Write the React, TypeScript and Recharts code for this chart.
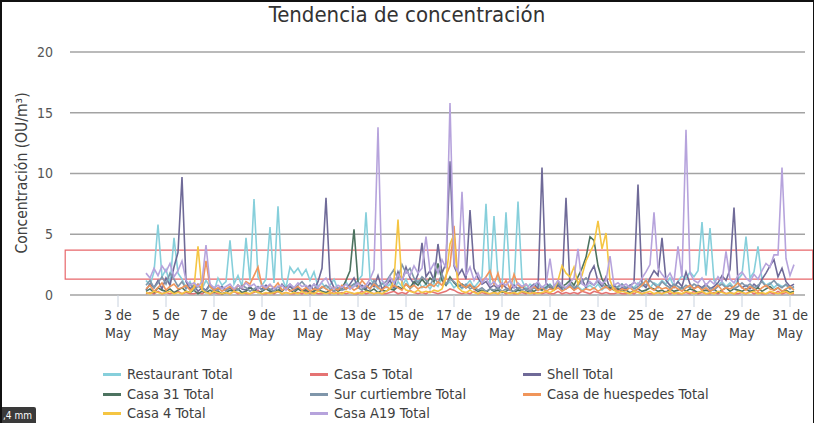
import React from "react";
import { LineChart, Line, XAxis, YAxis, CartesianGrid, ReferenceArea } from "recharts";

// time grid: first sample 4 May 04:00, one sample every 4 hours (in days since 1 May 00:00)
const START_DAY = 3 + 4 / 24;
const STEP_DAY = 4 / 24;

const restaurant = [
  1.2,0.8,1.9,5.8,1.5,2.1,0.9,4.7,1.8,1.3,
  0.6,1.1,0.4,0.9,0.5,1.2,0.7,0.3,1.4,0.8,
  1.1,4.5,0.9,1.6,0.7,4.7,1.2,7.9,1.5,0.8,
  1.3,5.6,1.0,7.3,1.4,0.6,2.3,1.8,2.2,1.6,
  2.1,1.2,1.9,0.7,1.0,0.5,0.8,1.3,0.4,0.6,
  1.1,0.5,0.9,1.2,1.6,6.8,1.4,0.8,0.5,1.0,
  0.6,0.9,0.4,1.1,0.7,1.3,0.5,0.8,1.2,0.6,
  0.9,0.5,1.0,0.7,1.4,0.8,1.1,0.6,0.9,0.5,
  0.8,1.2,0.6,1.0,1.5,7.5,0.9,6.5,1.3,0.7,
  6.8,1.1,0.6,7.7,1.2,0.5,0.9,0.6,1.0,0.4,
  0.7,0.9,0.5,0.8,0.4,0.6,0.9,0.5,0.7,0.4,
  0.6,0.8,0.5,0.9,0.4,0.7,0.5,0.8,0.6,0.9,
  0.5,0.8,0.6,1.0,0.7,1.3,0.6,1.0,0.8,1.2,
  0.9,1.4,0.7,1.1,1.6,1.3,1.9,1.5,2.0,6.0,
  1.6,5.5,1.2,0.8,1.1,0.7,1.0,0.6,1.3,1.7,
  4.8,1.4,1.9,4.0,1.2,0.8,1.0,0.6,0.9,0.7,
  0.8,0.5,0.6,
];

const casa5 = [
  0.1,0.2,0.1,0.3,0.1,0.2,0.1,0.2,0.3,0.1,
  0.2,0.1,0.1,0.2,0.1,0.3,0.1,0.2,0.1,0.1,
  0.2,0.1,0.3,0.1,0.2,0.1,0.1,0.2,0.4,0.1,
  0.1,0.2,0.1,0.3,0.1,0.2,0.1,0.1,0.2,0.1,
  0.3,0.1,0.2,0.1,0.1,0.2,0.1,0.3,0.1,0.2,
  0.1,0.2,0.1,0.1,0.3,0.1,0.2,0.1,0.2,0.1,
  0.1,0.2,0.3,0.1,0.2,0.1,0.4,0.2,0.1,0.2,
  0.1,0.3,0.2,0.1,0.2,0.3,0.5,0.4,0.2,0.1,
  0.2,0.1,0.3,0.1,0.2,0.1,0.1,0.2,0.1,0.3,
  0.1,0.2,0.1,0.1,0.2,0.1,0.3,0.1,0.2,0.1,
  0.2,0.1,0.1,0.3,0.1,0.2,0.1,0.2,0.1,0.3,
  0.2,0.1,0.3,0.2,0.1,0.2,0.1,0.1,0.2,0.1,
  0.1,0.2,0.1,0.3,0.1,0.2,0.1,0.1,0.2,0.1,
  0.3,0.1,0.2,0.1,0.1,0.2,0.1,0.3,0.1,0.2,
  0.1,0.1,0.2,0.1,0.3,0.1,0.2,0.1,0.1,0.2,
  0.1,0.3,0.1,0.2,0.1,0.1,0.2,0.1,0.3,0.1,
  0.2,0.1,0.1,
];

const shell = [
  0.4,0.9,0.6,1.2,0.5,1.4,0.8,2.3,3.5,9.7,
  1.1,0.5,0.8,0.3,0.6,0.4,0.9,0.3,0.5,0.7,
  0.4,0.6,0.3,0.8,0.5,0.4,0.7,0.3,0.6,0.5,
  0.8,0.4,0.6,0.3,0.9,0.5,0.7,0.4,0.6,0.3,
  0.5,0.8,0.4,1.1,2.2,8.0,1.3,0.6,0.4,0.7,
  0.5,0.9,1.4,0.6,0.8,0.5,1.0,0.7,1.6,0.5,
  0.8,1.2,0.6,1.9,1.1,2.3,1.4,0.9,1.7,4.3,
  1.5,2.0,1.2,4.2,1.8,2.6,11.0,2.4,1.6,2.1,
  1.3,7.0,2.2,1.4,0.9,1.1,0.6,0.8,0.5,0.9,
  0.6,0.4,0.8,0.5,0.7,0.4,0.6,0.9,0.5,10.5,
  1.0,0.6,0.4,0.8,0.5,8.0,0.7,0.4,0.9,1.3,
  0.6,1.8,2.4,1.1,0.7,1.5,0.5,0.8,0.4,0.6,
  0.5,0.8,1.0,9.1,0.9,0.6,1.4,2.0,1.6,4.7,
  1.2,0.8,0.6,1.1,0.7,1.9,0.9,0.5,0.8,0.6,
  0.9,0.5,0.7,1.0,1.6,1.2,2.1,7.2,1.0,0.6,
  0.8,0.5,0.9,0.6,1.3,1.8,2.4,2.9,1.5,2.2,
  1.1,0.7,0.9,
];

const casa31 = [
  0.3,0.5,0.2,0.6,0.4,0.3,0.5,0.2,0.4,0.6,
  0.3,0.2,0.4,0.1,0.3,0.2,0.4,0.2,0.3,0.1,
  0.2,0.4,0.3,0.5,0.2,0.3,0.6,0.4,0.2,0.3,
  0.5,0.3,0.2,0.4,0.3,0.6,0.4,0.2,0.5,0.3,
  0.4,0.2,0.3,0.5,0.3,0.2,0.4,0.6,0.3,0.5,
  1.2,2.0,5.4,1.1,0.6,0.4,0.3,0.5,0.2,0.4,
  0.3,0.5,0.4,0.7,0.5,0.9,0.6,1.1,0.8,1.3,
  0.9,1.4,1.1,2.6,1.2,0.8,1.5,1.0,0.7,0.9,
  0.6,0.8,0.5,0.3,0.4,0.2,0.5,0.3,0.4,0.2,
  0.3,0.5,0.2,0.4,0.3,0.2,0.4,0.3,0.5,0.4,
  0.6,0.8,0.5,1.0,0.7,0.9,1.2,0.8,1.5,2.2,
  3.1,4.8,4.5,2.4,1.3,0.8,0.6,0.4,0.5,0.3,
  0.4,0.2,0.3,0.5,0.3,0.4,0.6,0.5,0.3,0.4,
  0.2,0.5,0.3,0.4,0.6,0.3,0.5,0.4,0.2,0.3,
  0.4,0.3,0.5,0.2,0.4,0.6,0.3,0.5,0.4,0.3,
  0.5,0.3,0.4,0.6,0.3,0.5,0.7,0.4,0.6,0.3,
  0.4,0.2,0.3,
];

const surCurtiembre = [
  0.8,1.2,0.6,1.0,1.5,0.9,1.8,1.3,0.7,1.1,
  0.5,0.9,0.4,0.7,0.6,0.3,0.8,0.5,0.4,0.6,
  0.3,0.7,0.5,0.4,0.8,0.6,0.3,0.5,0.7,0.4,
  0.6,0.5,0.3,0.7,0.4,0.6,0.9,0.5,0.8,1.1,
  0.7,0.5,0.9,0.4,0.6,0.8,0.5,0.3,0.6,0.4,
  0.5,0.7,0.9,0.6,0.4,0.8,0.5,1.2,0.7,0.9,
  1.1,1.6,2.1,1.3,2.5,1.8,2.2,1.4,1.0,1.5,
  1.2,0.8,1.4,1.0,1.7,0.9,1.3,1.1,0.8,0.6,
  0.9,0.5,0.7,0.4,0.6,0.3,0.5,0.4,0.6,0.3,
  0.5,0.4,0.3,0.6,0.4,0.5,0.3,0.6,0.4,0.7,
  0.5,0.8,0.6,1.0,0.7,0.5,0.9,0.6,0.8,1.1,
  1.4,1.0,0.8,1.2,0.9,0.6,0.8,0.5,0.7,0.9,
  0.6,0.8,0.5,0.7,1.0,0.8,1.2,0.9,0.6,1.1,
  0.8,0.6,0.9,0.7,0.5,0.8,0.6,0.9,0.7,0.5,
  0.8,0.6,0.4,0.7,0.9,0.6,0.8,0.5,0.7,1.0,
  0.7,0.9,0.6,0.8,1.1,0.7,0.9,1.2,0.8,0.6,
  0.9,0.5,0.7,
];

const casaHuespedes = [
  0.5,0.8,0.3,0.6,1.0,0.4,0.7,0.9,0.5,0.6,
  0.8,0.4,0.6,0.9,0.5,2.8,0.7,0.4,0.6,0.3,
  0.5,0.7,0.4,0.8,0.6,1.1,0.9,1.6,2.3,0.7,
  0.5,0.8,0.6,1.0,0.4,0.6,0.3,0.5,0.7,0.4,
  0.6,0.3,0.5,0.4,0.7,0.5,0.3,0.6,0.4,0.8,
  0.5,0.7,0.4,0.6,1.2,0.8,0.5,0.9,0.6,0.4,
  0.7,0.5,0.8,0.6,0.4,0.9,0.6,0.8,0.5,0.7,
  0.6,0.9,0.7,1.1,0.8,1.6,2.4,5.7,1.2,0.8,
  0.6,0.9,0.5,0.7,1.1,1.5,2.0,0.9,1.8,0.6,
  1.2,0.5,1.7,0.8,0.6,0.9,0.5,0.7,0.4,0.6,
  0.3,0.5,0.4,0.6,0.3,0.5,0.7,0.4,0.6,0.3,
  0.5,0.4,0.6,0.3,0.5,0.7,0.4,0.6,0.3,0.5,
  0.4,0.6,0.3,0.5,0.8,1.2,0.6,0.4,0.7,0.5,
  0.6,0.4,0.7,0.5,0.3,0.6,0.8,0.5,0.7,0.4,
  0.6,0.3,0.5,0.8,0.4,0.6,0.5,0.7,1.0,0.6,
  0.4,0.7,0.5,0.3,0.6,0.8,0.5,0.4,0.6,0.3,
  0.5,0.7,0.4,
];

const casa4 = [
  0.2,0.1,0.3,0.2,0.1,0.2,0.3,0.1,0.2,0.1,
  0.3,0.2,0.6,4.0,0.4,0.2,0.1,0.3,0.2,0.1,
  0.2,0.1,0.3,0.2,0.1,0.2,0.1,0.3,0.2,0.1,
  0.2,0.1,0.2,0.3,0.1,0.2,0.1,0.2,0.1,0.3,
  0.1,0.2,0.1,0.3,0.2,0.1,0.2,0.1,0.2,0.1,
  0.3,0.2,0.1,0.2,0.1,0.3,0.2,0.1,0.2,0.1,
  0.3,0.5,1.2,6.2,0.8,0.4,0.3,0.2,0.4,0.2,
  0.3,0.2,0.4,0.3,0.5,1.4,4.2,5.0,0.6,0.3,
  0.2,0.4,0.2,0.1,0.3,0.2,0.1,0.2,0.1,0.3,
  0.2,0.1,0.2,0.1,0.3,0.2,0.1,0.2,0.1,0.2,
  0.3,0.2,0.4,1.2,2.4,1.8,1.5,2.3,0.9,1.6,
  2.8,3.5,4.2,6.1,3.8,5.1,1.2,0.4,0.2,0.3,
  0.2,0.1,0.3,0.2,0.1,0.2,0.3,0.1,0.2,0.1,
  0.2,0.3,0.1,0.2,0.1,0.3,0.2,0.1,0.2,0.3,
  0.1,0.2,0.1,0.3,0.2,0.1,0.2,0.1,0.3,0.2,
  0.1,0.2,0.3,0.1,0.2,0.1,0.3,0.2,0.1,0.2,
  0.3,0.1,0.2,
];

const casaA19 = [
  1.8,1.4,2.2,1.6,2.4,1.9,2.6,1.5,2.0,2.8,
  1.2,0.8,1.0,0.7,1.1,4.1,0.9,0.6,0.8,0.5,
  0.7,0.9,0.5,0.8,0.6,1.0,0.7,0.9,0.5,0.8,
  0.6,0.9,0.5,0.7,0.8,0.4,0.9,0.6,1.0,0.7,
  0.8,0.5,0.9,0.6,1.1,1.4,0.7,0.5,0.8,0.6,
  0.9,0.5,0.7,1.0,0.6,0.8,1.3,2.1,13.8,1.2,
  0.8,1.5,1.0,1.7,1.2,2.0,1.6,2.4,1.8,2.2,
  4.8,2.0,2.6,1.8,2.9,2.2,15.8,2.5,1.9,8.5,
  1.6,2.3,1.2,1.8,1.0,1.4,0.8,1.1,0.7,1.0,
  0.8,1.2,0.6,1.0,0.7,0.9,0.5,0.8,1.1,0.6,
  0.9,3.0,0.7,1.2,0.8,0.6,1.0,1.4,3.8,0.9,
  0.7,1.1,0.8,1.3,0.9,1.2,3.2,0.8,1.0,0.7,
  0.9,0.6,1.1,0.8,1.4,1.9,2.5,6.8,2.2,1.7,
  1.3,1.8,1.1,4.0,1.5,13.6,1.8,1.2,1.0,1.4,
  0.8,1.2,0.9,1.5,1.1,3.6,1.3,1.0,1.6,1.9,
  1.4,1.1,1.7,1.3,2.0,2.6,2.3,3.3,3.3,10.5,
  3.0,1.6,2.5,
];

const tickDays = [3, 5, 7, 9, 11, 13, 15, 17, 19, 21, 23, 25, 27, 29, 31];
const monthLabel = "May";
const yTicks = [0, 5, 10, 15, 20];
const bandLow = 1.3;
const bandHigh = 3.7;

const series = [
  { key: "restaurant", name: "Restaurant Total", color: "#86cfdb", values: restaurant },
  { key: "casa5", name: "Casa 5 Total", color: "#e57373", values: casa5 },
  { key: "shell", name: "Shell Total", color: "#6f6a98", values: shell },
  { key: "casa31", name: "Casa 31 Total", color: "#4d7360", values: casa31 },
  { key: "sur", name: "Sur curtiembre Total", color: "#7f96aa", values: surCurtiembre },
  { key: "huespedes", name: "Casa de huespedes Total", color: "#f0955a", values: casaHuespedes },
  { key: "casa4", name: "Casa 4 Total", color: "#f5c542", values: casa4 },
  { key: "a19", name: "Casa A19 Total", color: "#b6a3dc", values: casaA19 },
];

const data = restaurant.map((_, i) => {
  const row: Record<string, number> = { t: START_DAY + i * STEP_DAY };
  series.forEach((s) => {
    row[s.key] = s.values[i];
  });
  return row;
});

const FONT = "'Liberation Sans Narrow', 'DejaVu Sans Condensed', 'Noto Sans', sans-serif";

const DateTick = (props: any) => {
  const { x, y, payload } = props;
  const day = Math.round(payload.value) + 1;
  return (
    <text x={x} y={y} textAnchor="middle" fill="#404040" fontSize={14} fontFamily={FONT}>
      <tspan x={x} dy="0.75em">{`${day} de`}</tspan>
      <tspan x={x} dy="1.3em">{monthLabel}</tspan>
    </text>
  );
};

const legendCols = [103, 310, 523];
const legendRows = [374, 394, 413];

export default function App() {
  return (
    <div
      style={{
        position: "absolute",
        left: 0,
        top: 0,
        width: 814,
        height: 423,
        background: "#fff",
        boxSizing: "border-box",
        borderLeft: "2px solid #111",
        borderTop: "2px solid #111",
        borderRight: "1px solid #111",
        fontFamily: FONT,
        overflow: "hidden",
      }}
    >
      <div
        style={{
          position: "absolute",
          left: -2,
          top: -2,
          width: 814,
          textAlign: "center",
          fontSize: 22,
          lineHeight: "30px",
          color: "#333",
        }}
      >
        Tendencia de concentración
      </div>
      <div
        style={{
          position: "absolute",
          left: 22 - 100 - 2,
          top: 173 - 10 - 2,
          width: 200,
          height: 20,
          lineHeight: "20px",
          textAlign: "center",
          transform: "rotate(-90deg)",
          fontSize: 15.5,
          color: "#404040",
          whiteSpace: "nowrap",
        }}
      >
        Concentración (OU/m³)
      </div>
      <div style={{ position: "absolute", left: -2, top: -2 }}>
        <LineChart width={814} height={423} data={data} margin={{ top: 52, right: 9, bottom: 98, left: 0 }}>
          <CartesianGrid vertical={false} stroke="#a3a3a3" strokeWidth={1.5} />
          <XAxis
            dataKey="t"
            type="number"
            domain={[0, 30.625]}
            ticks={tickDays.map((d) => d - 1)}
            tick={<DateTick />}
            axisLine={false}
            tickLine={{ stroke: "#c9d2de" }}
            tickSize={12}
            tickMargin={2}
            allowDataOverflow
          />
          <YAxis
            width={70}
            domain={[0, 20]}
            ticks={yTicks}
            axisLine={false}
            tickLine={false}
            tickMargin={11}
            tick={{ fill: "#555", fontSize: 14, fontFamily: FONT }}
          />
          {series.map((s) => (
            <Line
              key={s.key}
              dataKey={s.key}
              name={s.name}
              stroke={s.color}
              strokeWidth={1.6}
              dot={false}
              activeDot={false}
              isAnimationActive={false}
              type="linear"
            />
          ))}
          <ReferenceArea
            x1={-0.2}
            x2={30.95}
            y1={bandLow}
            y2={bandHigh}
            ifOverflow="visible"
            fill="none"
            fillOpacity={0}
            stroke="#e8676b"
            strokeWidth={1.2}
          />
        </LineChart>
      </div>
      {series.map((s, i) => (
        <div
          key={s.key}
          style={{
            position: "absolute",
            left: legendCols[i % 3] - 2,
            top: legendRows[Math.floor(i / 3)] - 8 - 2,
            height: 16,
            lineHeight: "16px",
            display: "flex",
            alignItems: "center",
            whiteSpace: "nowrap",
            fontSize: 14.5,
            color: "#404040",
          }}
        >
          <span style={{ display: "inline-block", width: 18, height: 3, background: s.color, marginRight: 6 }} />
          {s.name}
        </div>
      ))}
      <div
        style={{
          position: "absolute",
          left: -2,
          top: 405,
          width: 36,
          height: 18,
          background: "#3a3a3a",
          borderRadius: 2,
          color: "#fff",
          fontSize: 10,
          lineHeight: "18px",
          paddingLeft: 3,
          boxSizing: "border-box",
        }}
      >
        ,4 mm
      </div>
    </div>
  );
}
